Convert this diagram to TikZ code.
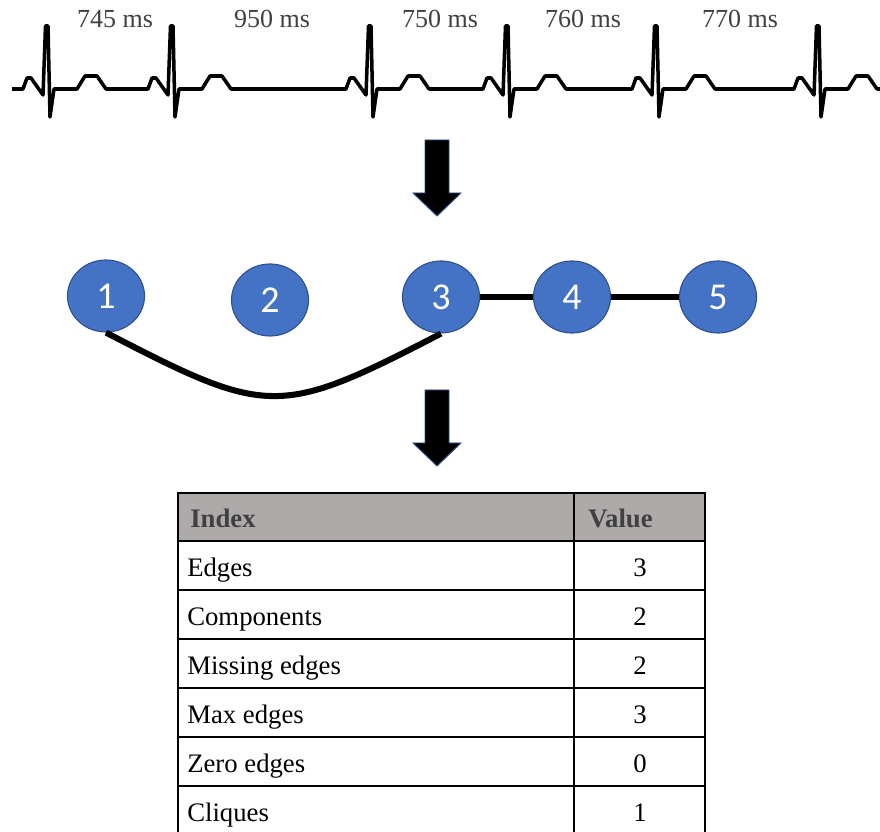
\documentclass[tikz,border=0pt]{standalone}
\usepackage{fontspec}
\setmainfont{Liberation Serif}
\newfontfamily\nodefont{Carlito}
\usetikzlibrary{shapes.geometric}
\definecolor{nodeblue}{HTML}{4472C4}
\definecolor{nodeline}{HTML}{2F528F}
\definecolor{headgray}{HTML}{AEAAAA}
\definecolor{textgray}{HTML}{404040}
\tikzset{
  vertex/.style={ellipse, draw=nodeline, fill=nodeblue, line width=0.8pt,
    minimum width=1.925cm, minimum height=1.8cm, inner sep=0pt,
    text=white, font=\nodefont\fontsize{27}{30}\selectfont},
  link/.style={line width=4.3pt},
  bigarrow/.style={fill=black, draw=nodeline, line width=0.7pt},
  mslabel/.style={anchor=base, inner sep=0pt, text=textgray, font=\fontsize{18.5}{22}\selectfont},
  cell/.style={anchor=base west, inner sep=0pt, font=\fontsize{19}{22}\selectfont},
  headcell/.style={cell, text=textgray, font=\bfseries\fontsize{19}{22}\selectfont}
}
\begin{document}
\begin{tikzpicture}[x=0.025cm, y=-0.025cm]
\useasboundingbox (0,0) rectangle (880,832);
% ECG strip
\draw[line width=2.5pt, line join=round] (12,89)
  \foreach \r in {47,172,370,507,656,818} {
    -- ({\r-24},89) -- ({\r-20},78) -- ({\r-16},78) -- ({\r-4},95)
    -- ({\r-1.5},26) -- ({\r+1},26) -- ({\r+3},117) -- ({\r+7},89)
    -- ({\r+30},89) -- ({\r+38},76) -- ({\r+50},76) -- ({\r+59},89)
  } -- (880,89);
\node[mslabel] (rr1) at (115,28) {745 ms};
\node[mslabel] (rr2) at (272,28) {950 ms};
\node[mslabel] (rr3) at (440,28) {750 ms};
\node[mslabel] (rr4) at (583,28) {760 ms};
\node[mslabel] (rr5) at (740,28) {770 ms};
% block arrows
\foreach \t in {140,390}
  \draw[bigarrow] (425,\t) -- (449,\t) -- (449,{\t+53}) -- (461,{\t+53})
    -- (437,{\t+76}) -- (413,{\t+53}) -- (425,{\t+53}) -- cycle;
% graph
\node[vertex] (n1) at (106,296) {1};
\node[vertex] (n2) at (270,300) {2};
\node[vertex] (n3) at (441,297) {3};
\node[vertex] (n4) at (572,297) {4};
\node[vertex] (n5) at (718,297) {5};
\draw[link] (n3) -- (n4);
\draw[link] (n4) -- (n5);
\draw[link] (n1.south) .. controls +(162,84) and +(-162,84) .. (n3.south);
% table
\fill[headgray] (178,493) rectangle (705,541);
\draw[line width=1.1pt] (178,493) rectangle (705,836);
\foreach \y in {541,590,...,786}
  \draw[line width=1.1pt] (178,\y) -- (705,\y);
\draw[line width=1.1pt] (574,493) -- (574,836);
\node[headcell] (hidx) at (190,527) {Index};
\node[headcell] (hval) at (588,527) {Value};
\foreach \name/\val [count=\i] in {Edges/3, Components/2, Missing edges/2,
    Max edges/3, Zero edges/0, Cliques/1} {
  \node[cell] (row\i) at (187,{541+49*\i-14}) {\name};
  \node[cell, anchor=base] (val\i) at (640,{541+49*\i-14}) {\val};
}
\end{tikzpicture}
\end{document}
